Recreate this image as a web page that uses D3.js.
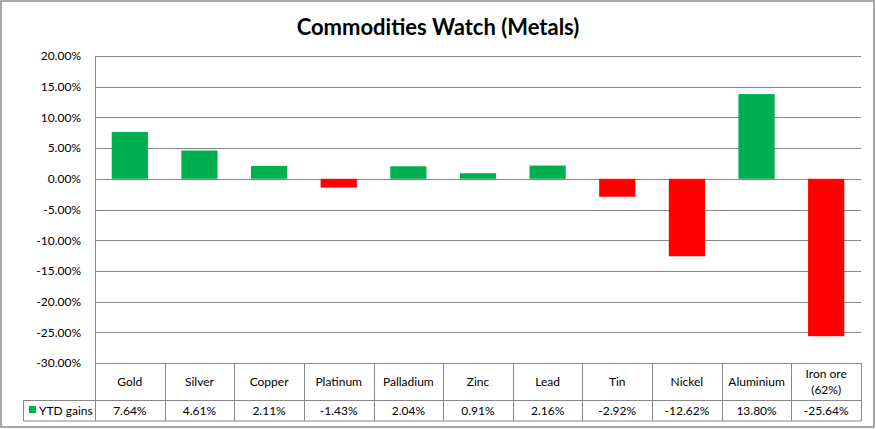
<!DOCTYPE html>
<html><head><meta charset="utf-8">
<script src="https://cdn.jsdelivr.net/npm/d3@7/dist/d3.min.js"></script>
<style>body{margin:0;background:#fff}svg{display:block}</style>
</head><body>
<svg id="c" width="876" height="429"></svg>
<script>
const categories = ["Gold","Silver","Copper","Platinum","Palladium","Zinc","Lead","Tin","Nickel","Aluminium","Iron ore\n(62%)"];
const ytdGains = [7.64,4.61,2.11,-1.43,2.04,0.91,2.16,-2.92,-12.62,13.80,-25.64];
const valueLabels = ["7.64%","4.61%","2.11%","-1.43%","2.04%","0.91%","2.16%","-2.92%","-12.62%","13.80%","-25.64%"];
const yTicks = [20,15,10,5,0,-5,-10,-15,-20,-25,-30];
const seriesName = "YTD gains";
const title = "Commodities Watch (Metals)";

const svg = d3.select("#c");
const font = "Lato, 'Open Sans', sans-serif";
const gridColor = "#878787";
const L = 95, R = 861, T = 56, B = 363;
const row1 = 400.5, row2 = 421, legLeft = 23.5;

// outer border
svg.append("rect").attr("x",1).attr("y",1).attr("width",873).attr("height",426)
  .attr("fill","none").attr("stroke","#8a8a8a").attr("stroke-width",1.5);

svg.append("text").attr("x",438).attr("y",35).attr("text-anchor","middle")
  .attr("font-family",font).attr("font-weight","bold").attr("font-size",22).attr("fill","#000").text(title);

const x = d3.scaleBand().domain(categories).range([L,R]).paddingInner(0.48).paddingOuter(0.24);
const xCell = d3.scaleBand().domain(categories).range([L,R]);
const y = d3.scaleLinear().domain([-30,20]).range([B,T]);

// gridlines
const grid = svg.append("g");
grid.selectAll("line").data(yTicks).join("line")
  .attr("x1",L).attr("x2",R).attr("y1",d=>Math.round(y(d))+0.5).attr("y2",d=>Math.round(y(d))+0.5)
  .attr("stroke",gridColor).attr("stroke-width",1);

// y axis labels
const yAxis = d3.axisLeft(y).tickValues(yTicks).tickFormat(d=>d.toFixed(2)+"%").tickSize(0).tickPadding(14);
const ga = svg.append("g").attr("transform",`translate(${L},0)`).call(yAxis);
ga.select(".domain").remove();
ga.selectAll("text").attr("font-family",font).attr("font-size",12).attr("fill","#000");

// bars
svg.append("g").selectAll("rect").data(ytdGains).join("rect")
  .attr("x",(d,i)=>x(categories[i]))
  .attr("width",x.bandwidth())
  .attr("y",d=>y(Math.max(0,d)))
  .attr("height",d=>Math.abs(y(d)-y(0)))
  .attr("fill",d=>d>=0?"#00B050":"#FF0000");

// left axis line
svg.append("line").attr("x1",L+0.5).attr("x2",L+0.5).attr("y1",T).attr("y2",row2)
  .attr("stroke",gridColor);

// table
const tg = svg.append("g").attr("stroke",gridColor).attr("stroke-width",1);
tg.append("line").attr("x1",legLeft).attr("x2",R).attr("y1",row1).attr("y2",row1);
tg.append("line").attr("x1",legLeft).attr("x2",R).attr("y1",row2).attr("y2",row2);
tg.append("line").attr("x1",legLeft).attr("x2",legLeft).attr("y1",row1).attr("y2",row2);
tg.selectAll("line.v").data(categories).join("line").attr("class","v")
  .attr("x1",d=>Math.round(xCell(d)+xCell.bandwidth())+0.5).attr("x2",d=>Math.round(xCell(d)+xCell.bandwidth())+0.5)
  .attr("y1",B).attr("y2",row2);

const cat = svg.append("g").attr("font-family",font).attr("font-size",12).attr("fill","#000").attr("text-anchor","middle");
categories.forEach((c,i)=>{
  const lines = c.split("\n");
  const cx = xCell(c)+xCell.bandwidth()/2;
  const mid = (B+row1)/2;
  const t = cat.append("text").attr("x",cx);
  lines.forEach((ln,j)=>{
    t.append("tspan").attr("x",cx).attr("y",mid+4+(j-(lines.length-1)/2)*16).text(ln);
  });
  cat.append("text").attr("x",cx).attr("y",(row1+row2)/2+4.5).text(valueLabels[i]);
});

// legend key
svg.append("rect").attr("x",29).attr("y",406).attr("width",7).attr("height",7).attr("fill","#00B050");
svg.append("text").attr("x",39).attr("y",(row1+row2)/2+4.5).attr("font-family",font).attr("font-size",12).text(seriesName);
</script>
</body></html>
